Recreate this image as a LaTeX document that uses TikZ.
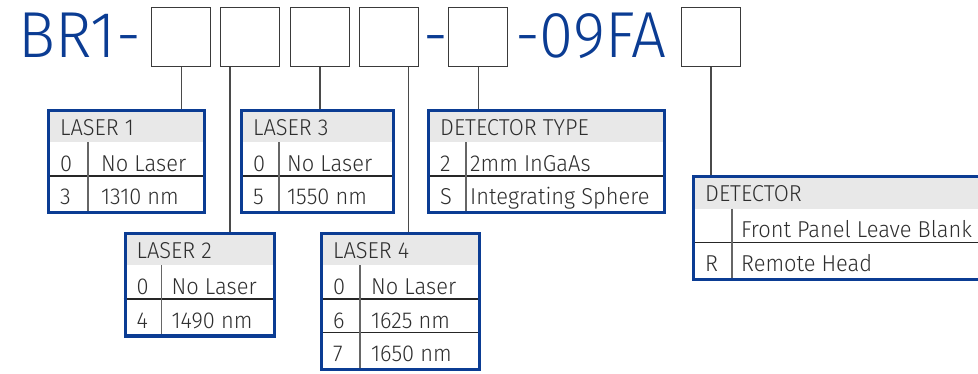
\documentclass[tikz,border=0pt]{standalone}
\usepackage{fontspec}
\setmainfont{Fira Sans Light}[FakeStretch=0.95]
\newfontfamily\titlefont{Fira Sans Light}[FakeStretch=0.95]
\definecolor{tblue}{HTML}{0B3C93}
\definecolor{ttext}{HTML}{2E2E2E}
\definecolor{hdrfill}{HTML}{E8E8E8}
\definecolor{boxline}{HTML}{3A3A3A}
\definecolor{conline}{HTML}{4A4A4A}
\tikzset{
  codebox/.style={draw=boxline, line width=1.3pt, minimum width=59pt, minimum height=59pt, inner sep=0pt},
  tframe/.style={draw=tblue, line width=3pt, inner sep=0pt, anchor=north west},
  ttxt/.style={anchor=base west, inner sep=0pt, text=ttext, font=\fontsize{23}{25}\selectfont},
  rowline/.style={draw=black!85, line width=1.1pt},
  divline/.style={draw=black!60, line width=1.1pt},
  conn/.style={draw=conline, line width=1.1pt},
  title/.style={anchor=base west, inner sep=0pt, text=tblue, font=\titlefont\fontsize{65}{70}\selectfont}
}
\def\rh{33.5}
% #1 name, #2 left, #3 top, #4 width, #5 divider offset, #6 header, #7 rows count, #8 rows list, #9 value offset
\newcommand{\spectable}[9]{%
  \pgfmathsetmacro{\tH}{\rh*(#7+1)+2}%
  \fill[hdrfill] ({#2},{#3}) rectangle ({#2+#4},{#3+\rh});
  \node[ttxt] (#1-h) at ({#2+13},{#3+\rh-7}) {#6};
  \foreach [count=\i] \c/\v in {#8} {
    \node[ttxt] (#1-c\i) at ({#2+13},{#3+\rh*(\i+1)-4.5}) {\c};
    \node[ttxt] (#1-v\i) at ({#2+#9},{#3+\rh*(\i+1)-4.5}) {\v};
    \ifnum\i>1 \draw[rowline] ({#2},{#3+\rh*\i}) -- ({#2+#4},{#3+\rh*\i}); \fi
  }
  \draw[divline] ({#2+#5},{#3+\rh}) -- ({#2+#5},{#3+\tH});
  \node[tframe, minimum width=#4pt, minimum height=\tH pt] (#1) at ({#2},{#3}) {};
}
\begin{document}
\begin{tikzpicture}[x=1pt,y=-1pt]
\useasboundingbox (0,0) rectangle (978,374);
\clip (0,0) rectangle (978,374);
\fill[white] (0,0) rectangle (978,374);
% title
\node[title] (t1) at (18,58) {BR1-};
\node[title] (t3) at (423,58) {-};
\node[title] (t2) at (515,58) {-09FA};
% code boxes
\node[codebox] (b1) at (181.2,36.8) {};
\node[codebox] (b2) at (250.3,36.8) {};
\node[codebox] (b3) at (319.7,36.8) {};
\node[codebox] (b4) at (388.8,36.8) {};
\node[codebox] (b5) at (478.3,36.8) {};
\node[codebox] (b6) at (710.8,36.8) {};
% tables
\spectable{L1}{47}{109}{156}{41}{LASER 1}{2}{0/No Laser,3/1310 nm}{54}
\spectable{L3}{240}{109}{152}{39}{LASER 3}{2}{0/No Laser,5/1550 nm}{47}
\spectable{DT}{427}{109}{236}{39}{DETECTOR TYPE}{2}{2/2mm InGaAs,S/Integrating Sphere}{43}
\spectable{DE}{692}{175.5}{300}{40}{DETECTOR}{2}{{}/Front Panel Leave Blank,R/Remote Head}{49}
\spectable{L2}{123.5}{232}{149}{38}{LASER 2}{2}{0/No Laser,4/1490 nm}{48}
\spectable{L4}{320}{232}{158}{40}{LASER 4}{3}{0/No Laser,6/1625 nm,7/1650 nm}{51}
% connectors
\coordinate (k1) at (181.7,0);
\coordinate (k2) at (230,0);
\coordinate (k3) at (320,0);
\coordinate (k4) at (408.7,0);
\coordinate (k5) at (478.7,0);
\coordinate (k6) at (711,0);
\draw[conn] (b1.south -| k1) -- (L1.north -| k1);
\draw[conn] (b2.south -| k2) -- (L2.north -| k2);
\draw[conn] (b3.south -| k3) -- (L3.north -| k3);
\draw[conn] (b4.south -| k4) -- (L4.north -| k4);
\draw[conn] (b5.south -| k5) -- (DT.north -| k5);
\draw[conn] (b6.south -| k6) -- (DE.north -| k6);
\end{tikzpicture}
\end{document}
